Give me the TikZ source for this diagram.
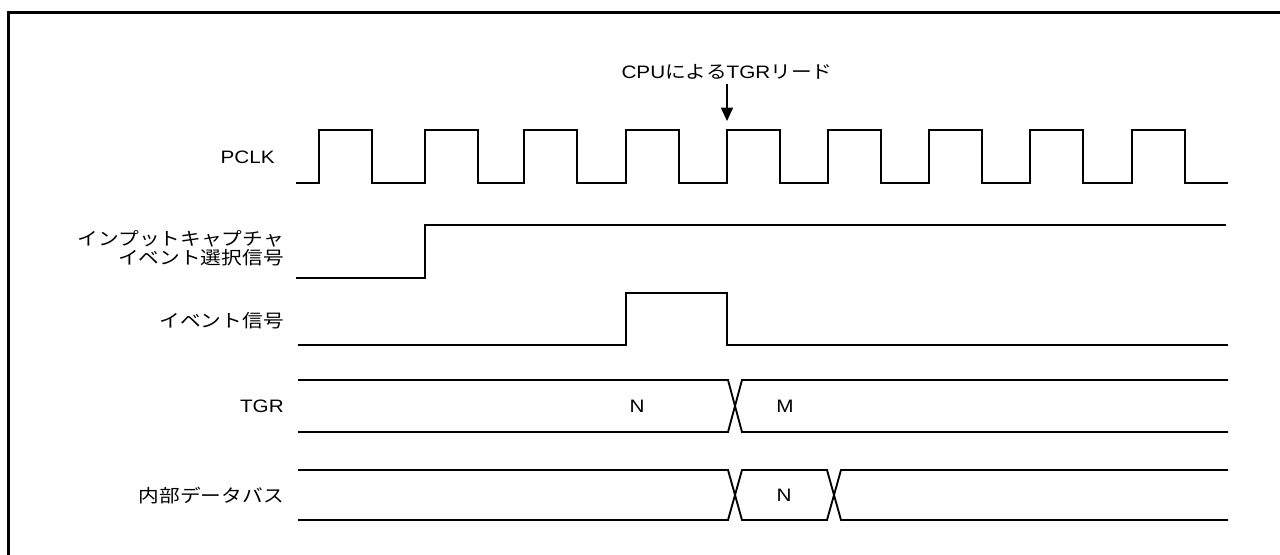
\documentclass[tikz,border=0pt]{standalone}
\usepackage{fontspec}
\setmainfont{Liberation Sans}[FakeStretch=1.15]
\newfontfamily\jp{Noto Sans CJK JP}[FakeStretch=1.15]
\usetikzlibrary{arrows.meta}
\begin{document}
\begin{tikzpicture}[x=0.75pt,y=-0.75pt,
  sig/.style={line width=1.4pt, line join=miter},
  lbl/.style={font=\fontsize{13.5}{15}\selectfont, inner sep=0pt},
  jlbl/.style={font=\jp\fontsize{13.5}{14.5}\selectfont, inner sep=0pt},
  readarrow/.style={line width=1.2pt, -{Triangle[width=9pt,length=10pt]}, shorten <=3pt}]
\useasboundingbox (0,0) rectangle (1280,555);
% frame
\draw[line width=2.3pt, line join=miter] (8.5,555) -- (8.5,12.5) -- (1280,12.5);
% labels
\node[lbl, anchor=east] (pclk) at (275,157) {PCLK};
\node[jlbl, anchor=east, align=right] (icsel) at (284,248) {インプットキャプチャ\\イベント選択信号};
\node[jlbl, anchor=east] (ev) at (284,321) {イベント信号};
\node[lbl, anchor=east] (tgr) at (284,406) {TGR};
\node[jlbl, anchor=east] (bus) at (284,496) {内部データバス};
\node[lbl] (tgrN) at (637,406) {N};
\node[lbl] (tgrM) at (785,406) {M};
\node[lbl] (busN) at (784,495) {N};
\node[lbl] (cpu) at (727,72) {CPU{\jp による}TGR{\jp リード}};
\coordinate (clkedge) at (727,121);
\draw[readarrow] (cpu) -- (clkedge);
% PCLK
\draw[sig] (296,183) foreach \r in {319,425,524,626,727,828,929,1030,1132} { -- (\r,183) -- (\r,130) -- ({\r+53},130) -- ({\r+53},183) } -- (1228,183);
% input capture event select
\draw[sig] (296,278) -- (425,278) -- (425,225) -- (1226,225);
% event signal
\draw[sig] (298,345) -- (626,345) -- (626,293) -- (727,293) -- (727,345) -- (1228,345);
% TGR
\draw[sig] (298,380) -- (728,380) -- (742,432) -- (1228,432);
\draw[sig] (298,432) -- (728,432) -- (742,380) -- (1228,380);
% internal data bus
\draw[sig] (298,470) -- (728,470) -- (742,520) -- (827,520) -- (841,470) -- (1228,470);
\draw[sig] (298,520) -- (728,520) -- (742,470) -- (827,470) -- (841,520) -- (1228,520);
\end{tikzpicture}
\end{document}
